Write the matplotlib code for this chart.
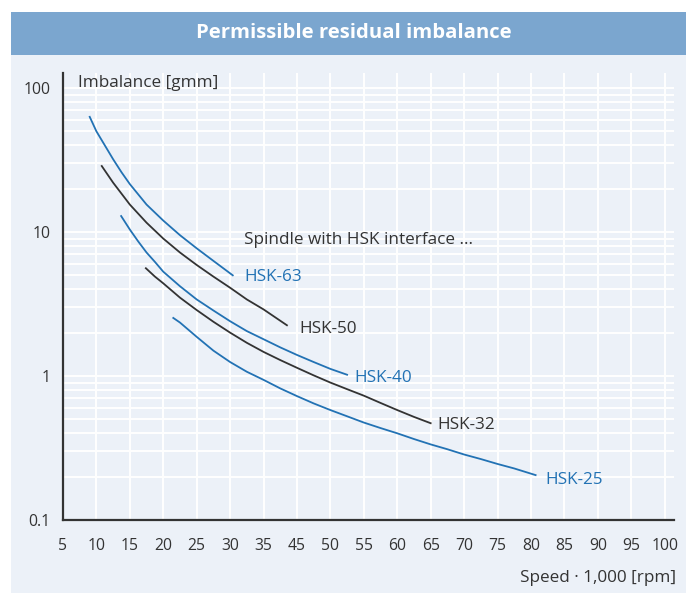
import matplotlib
matplotlib.use("Agg")
import matplotlib.pyplot as plt
from matplotlib.patches import Rectangle
from matplotlib.ticker import FixedLocator, LogLocator, NullFormatter

plt.rcParams['font.family'] = ['Open Sans', 'DejaVu Sans']

# x axis is evenly spaced, the printed labels skip 40
tick_pos = [5, 10, 15, 20, 25, 30, 35, 40, 45, 50, 55, 60, 65, 70, 75, 80, 85, 90, 95]
tick_labels = ['5', '10', '15', '20', '25', '30', '35', '45', '50', '55', '60',
               '65', '70', '75', '80', '85', '90', '95', '100']

# curves (x in axis position units, y in gmm)
hsk63_x = [9.0, 10, 11.25, 12.5, 13.75, 15, 17.5, 20, 22.5, 25, 27.5, 30.4]
hsk63_y = [63, 50, 40, 32, 26, 21.5, 15.5, 12.0, 9.5, 7.7, 6.3, 5.0]

hsk50_x = [10.8, 12.5, 15, 17.5, 20, 22.5, 25, 27.5, 30, 32.5, 35, 38.5]
hsk50_y = [28.7, 22, 15.5, 11.6, 9.0, 7.2, 5.9, 4.9, 4.1, 3.4, 2.9, 2.25]

hsk40_x = [13.7, 15, 16.25, 17.5, 18.75, 20, 22.5, 25, 27.5, 30, 32.5, 35,
           37.5, 40, 42.5, 45, 47.5]
hsk40_y = [12.9, 10.4, 8.6, 7.2, 6.2, 5.3, 4.2, 3.4, 2.85, 2.4, 2.05, 1.8,
           1.58, 1.4, 1.25, 1.12, 1.02]

hsk32_x = [17.4, 18.75, 20, 22.5, 25, 27.5, 30, 32.5, 35, 37.5, 40, 42.5, 45,
           47.5, 50, 52.5, 55, 57.5, 60]
hsk32_y = [5.6, 4.9, 4.4, 3.5, 2.87, 2.38, 2.0, 1.7, 1.47, 1.29, 1.14, 1.01, 0.9,
           0.81, 0.73, 0.65, 0.58, 0.52, 0.47]

hsk25_x = [21.5, 22.5, 25, 27.5, 30, 32.5, 35, 37.5, 40, 42.5, 45, 47.5, 50,
           52.5, 55, 57.5, 60, 62.5, 65, 67.5, 70, 72.5, 75.7]
hsk25_y = [2.53, 2.35, 1.87, 1.5, 1.25, 1.07, 0.94, 0.82, 0.725, 0.645, 0.58, 0.525,
           0.475, 0.435, 0.40, 0.365, 0.335, 0.31, 0.285, 0.265, 0.245, 0.228, 0.205]

series = [
    ('HSK-63', hsk63_x, hsk63_y, '#2272b4', (32.1, 4.9)),
    ('HSK-50', hsk50_x, hsk50_y, '#333333', (40.3, 2.12)),
    ('HSK-40', hsk40_x, hsk40_y, '#2272b4', (48.6, 0.97)),
    ('HSK-32', hsk32_x, hsk32_y, '#333333', (61.0, 0.457)),
    ('HSK-25', hsk25_x, hsk25_y, '#2272b4', (77.2, 0.19)),
]

bg = '#ecf1f8'
fig = plt.figure(figsize=(6.86, 5.93), dpi=100)
fig.patch.set_facecolor('white')

# panel background and title bar
fig.patches.append(Rectangle((0.016, 0), 0.984, 0.9073, transform=fig.transFigure,
                             facecolor=bg, edgecolor='none', zorder=-2))
fig.patches.append(Rectangle((0.016, 0.9073), 0.984, 0.0725, transform=fig.transFigure,
                             facecolor='#7ba6cf', edgecolor='none', zorder=-2))
fig.text(0.516, 0.944, 'Permissible residual imbalance', color='white',
         fontsize=14.6, fontweight='bold', ha='center', va='center')

ax = fig.add_axes([0.0918, 0.1231, 0.8907, 0.7538])
ax.set_facecolor(bg)
ax.set_yscale('log')
ax.set_xlim(5, 96.4)
ax.set_ylim(0.1, 127)

ax.xaxis.set_major_locator(FixedLocator(tick_pos))
ax.set_xticklabels(tick_labels)
ax.yaxis.set_major_locator(FixedLocator([0.1, 1, 10, 100]))
ax.set_yticklabels(['0.1', '1', '10', '100'])
ax.yaxis.set_minor_locator(LogLocator(base=10, subs=range(2, 10)))
ax.yaxis.set_minor_formatter(NullFormatter())

ax.grid(True, which='both', axis='y', color='white', lw=1.4)
ax.grid(True, which='major', axis='x', color='white', lw=1.4)
ax.set_axisbelow(True)

for s in ['top', 'right']:
    ax.spines[s].set_visible(False)
for s in ['left', 'bottom']:
    ax.spines[s].set_color('#333333')
    ax.spines[s].set_linewidth(1.6)

ax.tick_params(axis='both', which='both', length=0, labelsize=11.3, colors='#333333')
ax.tick_params(axis='x', pad=13)
ax.tick_params(axis='y', pad=9)

for name, xs, ys, col, (lx, ly) in series:
    ax.plot(xs, ys, color=col, lw=1.3)
    ax.text(lx, ly, name, color=col, fontsize=12.3, ha='left', va='center')

ax.text(32.1, 8.8, 'Spindle with HSK interface ...', color='#333333',
        fontsize=12.3, ha='left', va='center')
ax.text(0.0245, 0.978, 'Imbalance [gmm]', transform=ax.transAxes, color='#333333',
        fontsize=12.3, ha='left', va='center')
fig.text(0.985, 0.025, 'Speed · 1,000 [rpm]', color='#333333', fontsize=12.3,
         ha='right', va='center')

fig.savefig('out.png', dpi=100, facecolor=fig.get_facecolor())
